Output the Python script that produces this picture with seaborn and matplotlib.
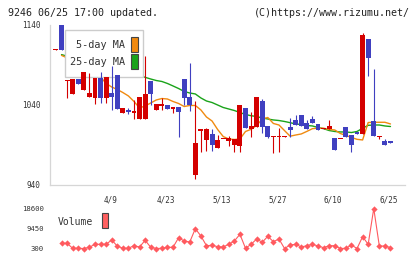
import matplotlib
matplotlib.use("Agg")
import matplotlib.pyplot as plt
from matplotlib.patches import Rectangle
import numpy as np
import pandas as pd
import seaborn as sns

sns.set_style("white")
plt.rcParams['font.family'] = ['DejaVu Sans Mono', 'DejaVu Sans']

# daily candles, index -1 is the day just before the 60-day window
days = list(range(-1, 60))
opens = [1109, 1140, 1070, 1054, 1072, 1059, 1050, 1049, 1074, 1049,
         1055, 1078, 1030, 1034, 1030, 1022, 1022, 1070, 1034, 1039,
         1040, 1035, 1037, 1072, 1050, 952, 1007, 996, 1004, 986,
         997, 995, 990, 989, 1036, 1010, 1012, 1045, 1014, 1000,
         1000, 1000, 1012, 1021, 1027, 1017, 1022, 1016, 1010, 1010,
         999, 997, 1012, 1003, 1006, 1004, 1122, 1020, 1000, 995, 995]
highs = [1110, 1140, 1071, 1072, 1072, 1081, 1080, 1074, 1081, 1075,
         1089, 1078, 1036, 1036, 1046, 1050, 1101, 1070, 1041, 1049,
         1040, 1037, 1037, 1072, 1093, 1045, 1010, 1011, 1010, 1002,
         998, 1001, 998, 1040, 1036, 1031, 1050, 1047, 1014, 1001,
         1011, 1001, 1024, 1027, 1027, 1021, 1026, 1016, 1011, 1021,
         999, 998, 1012, 1003, 1006, 1130, 1122, 1085, 1001, 997, 995]
lows = [1109, 1109, 1049, 1054, 1066, 1059, 1050, 1041, 1042, 1042,
        1034, 1035, 1030, 1029, 1022, 1022, 1022, 1040, 1034, 1034,
        1035, 1030, 1000, 1040, 1033, 948, 981, 982, 982, 986,
        997, 989, 981, 981, 1011, 1000, 1012, 1005, 999, 980,
        981, 1000, 1000, 1015, 1014, 1010, 1017, 1009, 1010, 1010,
        984, 997, 1000, 981, 1004, 1004, 1076, 1001, 998, 990, 992]
closes = [1110, 1109, 1071, 1072, 1066, 1081, 1055, 1074, 1049, 1075,
          1050, 1035, 1036, 1031, 1032, 1050, 1054, 1054, 1041, 1041,
          1035, 1037, 1031, 1049, 1040, 993, 1010, 1010, 990, 996,
          998, 999, 998, 1040, 1011, 1014, 1050, 1012, 1000, 1001,
          1001, 1001, 1009, 1015, 1014, 1010, 1017, 1009, 1011, 1014,
          984, 998, 1000, 990, 1004, 1127, 1099, 1001, 1001, 990, 992]

ma_days = list(range(0, 60))
ma5 = [1102, 1099, 1094, 1089, 1084, 1080, 1077.5, 1075, 1067, 1062.5,
       1059.4, 1055.6, 1051.3, 1044.4, 1036.3, 1038.8, 1042.5, 1046.3, 1048.1, 1047.5,
       1044.4, 1041.9, 1038.1, 1039.4, 1039.4, 1033.8, 1025, 1020, 1009.4, 1000.6,
       997.5, 996.9, 997.5, 1006.9, 1009.6, 1014.4, 1022.5, 1024.4, 1016.9, 1015,
       1008, 1001, 1002.5, 1003.8, 1007, 1010.4, 1011, 1011, 1009.4, 1008.8,
       1004.4, 1002, 999.4, 997.1, 996.3, 1018.1, 1018.4, 1018.4, 1018.4, 1016.3]
ma25 = [1103, 1101, 1099, 1097, 1095, 1093, 1091, 1089, 1087, 1085,
        1083, 1081, 1079.5, 1078, 1077, 1074.6, 1072.5, 1070.6, 1069.4, 1066.9,
        1063.8, 1060.6, 1056.9, 1055, 1053.8, 1048.8, 1045, 1043.1, 1040, 1036.9,
        1035, 1033.1, 1030.6, 1028.1, 1026.6, 1025.6, 1023.8, 1022.5, 1021.3, 1020.6,
        1019.4, 1017.9, 1016.3, 1015.6, 1014.4, 1013.8, 1011.9, 1010.4, 1008.1, 1006.9,
        1006.3, 1006.3, 1005.6, 1006.9, 1010.9, 1014.6, 1015, 1015, 1013.8, 1013.1]

volume = [2680, 2680, 400, 400, 300, 850, 2220, 2220, 2220, 4190,
          1440, 400, 400, 1580, 990, 4050, 850, 300, 400, 850,
          850, 5240, 3730, 3270, 9360, 6020, 1580, 1760, 1120, 990,
          2220, 3730, 6800, 400, 2220, 4650, 3140, 5880, 3410, 4650,
          300, 1900, 2220, 990, 1580, 2220, 1440, 670, 1580, 1580,
          300, 400, 1900, 300, 5700, 2220, 18600, 1440, 1440, 670]

date_labels = ["4/9", "4/23", "5/13", "5/27", "6/10", "6/25"]
date_pos = [8.8, 18.8, 28.8, 38.8, 48.7, 58.7]
price_ticks = [940, 1040, 1140]
vol_ticks = [300, 9450, 18600]

RED = "#d40000"
BLUE = "#4040c0"
ORANGE = "#f08a10"
GREEN = "#1aa31a"
VOLC = "#ff5a5f"
GRID = "#d6d6d6"
TXT = "#333333"

W, H = 420, 259
fig = plt.figure(figsize=(4.2, 2.59), dpi=100)


def fx(px):
    return px / W


def fy(py):
    return 1 - py / H


# pixel layout of the original
xmin = (50 - 61.5) / 5.576
xmax = (405 - 61.5) / 5.576

ax = fig.add_axes([fx(50), fy(185), fx(405) - fx(50), fy(25) - fy(185)])
axv = fig.add_axes([fx(50), fy(248.5), fx(405) - fx(50), fy(208.5) - fy(248.5)])

# moving averages (under the legend box)
sns.lineplot(x=ma_days, y=ma25, ax=ax, color=GREEN, lw=1.0, zorder=2)
sns.lineplot(x=ma_days, y=ma5, ax=ax, color=ORANGE, lw=1.0, zorder=2)

# candles (drawn over the legend box)
df = pd.DataFrame(dict(d=days, o=opens, h=highs, l=lows, c=closes))
df["col"] = np.where(df.c >= df.o, RED, BLUE)
df["bot"] = df[["o", "c"]].min(axis=1)
df["ht"] = (df.c - df.o).abs().clip(lower=1.6)
ax.vlines(df.d, df.l, df.h, colors=df.col, lw=0.8, zorder=4)
ax.bar(df.d, df.ht, bottom=df.bot, width=0.88, color=df.col, linewidth=0, zorder=5)

ax.set_ylim(940, 1140)
ax.set_yticks(price_ticks)
ax.set_xticks(np.linspace(xmin, xmax, 12))
ax.set_xticklabels([])
ax.set_xticks(date_pos, date_labels, minor=True)
ax.set_xlim(xmin, xmax)
ax.set_xlabel("")
ax.set_ylabel("")
for s in ["top", "right"]:
    ax.spines[s].set_visible(False)
for s in ["left", "bottom"]:
    ax.spines[s].set_color(GRID)
    ax.spines[s].set_linewidth(0.9)
ax.tick_params(axis="y", direction="inout", length=7, width=0.9, color=GRID,
               pad=3.5, labelsize=5.5, labelcolor=TXT)
ax.tick_params(axis="x", which="major", direction="inout", length=6.5, width=0.9,
               color=GRID)
ax.tick_params(axis="x", which="minor", length=0, pad=7.5, labelsize=5.5,
               labelcolor=TXT)

# legend box
ax.add_patch(Rectangle((fx(65), fy(77)), fx(143) - fx(65), fy(30) - fy(77),
                       transform=fig.transFigure, facecolor="white",
                       edgecolor="#cccccc", lw=1.0, zorder=3, clip_on=False))
for label, col, yc in [("5-day MA", ORANGE, 44.5), ("25-day MA", GREEN, 61.8)]:
    ax.text(fx(125.5), fy(yc), label, transform=fig.transFigure, ha="right",
            va="center", fontsize=7.3, color=TXT, zorder=3.5)
    ax.add_patch(Rectangle((fx(131), fy(yc + 7.5)), fx(7), fy(0) - fy(15),
                           transform=fig.transFigure, facecolor=col,
                           edgecolor="#444444", lw=0.8, zorder=3.5, clip_on=False))

# volume panel
sns.lineplot(x=ma_days, y=volume, ax=axv, color=VOLC, lw=0.8, marker="D",
             markersize=3.2, markeredgewidth=0, markerfacecolor=VOLC)
for ln in axv.lines:
    ln.set_clip_on(False)
axv.set_xlim(xmin, xmax)
axv.set_ylim(300, 18600)
axv.set_yticks(vol_ticks)
axv.set_xticks([])
axv.set_xlabel("")
axv.set_ylabel("")
for s in axv.spines.values():
    s.set_visible(False)
axv.tick_params(axis="y", length=0, pad=4.3, labelsize=5.2, labelcolor=TXT)
axv.patch.set_alpha(0)

fig.text(fx(58), fy(221.7), "Volume", ha="left", va="center", fontsize=7,
         color=TXT)
fig.patches.append(Rectangle((fx(101.7), fy(228.3)), fx(6), fy(0) - fy(15),
                             transform=fig.transFigure, facecolor="#ff6060",
                             edgecolor="#444444", lw=0.8))

fig.text(fx(8), fy(12.5), "9246 06/25 17:00 updated.", ha="left", va="center",
         fontsize=7.2, color="#222222")
fig.text(fx(410), fy(12.5), "(C)https://www.rizumu.net/", ha="right",
         va="center", fontsize=7.2, color="#222222")

fig.savefig("out.png", dpi=100)
